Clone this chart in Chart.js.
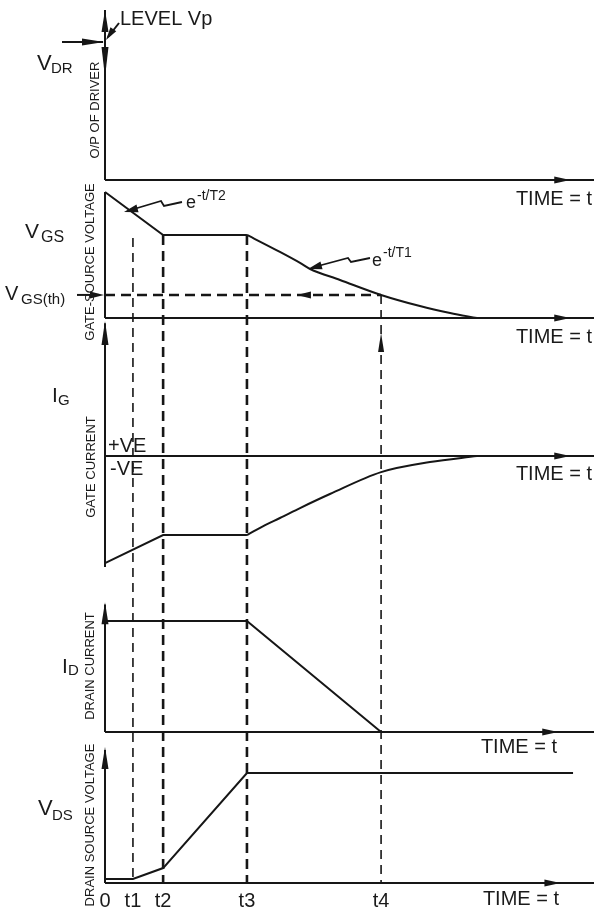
<!DOCTYPE html>
<html><head><meta charset="utf-8">
<script src="https://cdn.jsdelivr.net/npm/chart.js@4.4.1/dist/chart.umd.min.js"></script>
<style>html,body{margin:0;padding:0;background:#fff}#wrap{width:594px;height:911px;position:relative}</style>
</head><body><div id="wrap"><canvas id="c"></canvas></div>
<script>
// ---- time axis ----
const tickTimes = [0, 1.0, 2.08, 5.08, 9.88];
const tickLabels = ['0', 't1', 't2', 't3', 't4'];
const timeMax = 17.5;

// ---- V_DR (driver output) ----
const vdrLevel = 1.0;

// ---- V_GS ----
const vgsLinT = [0, 2.08, 5.08];
const vgsLinV = [1.0, 0.659, 0.659];
const vgsDecayT = [5.08, 6.26, 6.98, 7.34, 8.41, 9.88, 11.27, 12.35, 13.31];
const vgsDecayV = [0.659, 0.524, 0.437, 0.389, 0.302, 0.183, 0.095, 0.04, 0];
const vgsTh = 0.183;

// ---- I_G ----
const igLinT = [0, 2.08, 5.08];
const igLinV = [-1.0, -0.738, -0.738];
const igRiseT = [5.08, 5.73, 6.26, 6.98, 8.05, 9.88, 11.63, 13.31];
const igRiseV = [-0.738, -0.645, -0.579, -0.486, -0.355, -0.150, -0.056, 0];

// ---- I_D ----
const idT = [0, 5.08, 9.88];
const idV = [1.0, 1.0, 0];

// ---- V_DS ----
const vdsT = [0, 1.0, 2.08, 5.08, 16.75];
const vdsV = [0.036, 0.036, 0.136, 1.0, 1.0];

const FONT = "'Liberation Sans', Arial, Helvetica, sans-serif";
const INK = '#161616';

function pts(ts, vs) { return ts.map((t, i) => ({x: t, y: vs[i]})); }

function lineDs(ts, vs, axis, smooth) {
  return {
    data: pts(ts, vs), yAxisID: axis, borderColor: INK, borderWidth: 2,
    pointRadius: 0, fill: false, clip: false,
    tension: 0, cubicInterpolationMode: smooth ? 'monotone' : 'default'
  };
}

function head(ctx, tx, ty, dx, dy, len, half) {
  const n = Math.hypot(dx, dy); dx /= n; dy /= n;
  const bx = tx - dx * len, by = ty - dy * len;
  ctx.beginPath();
  ctx.moveTo(tx, ty);
  ctx.lineTo(bx - dy * half, by + dx * half);
  ctx.lineTo(bx + dy * half, by - dx * half);
  ctx.closePath(); ctx.fill();
}
function seg(ctx, p, w, dash) {
  ctx.save();
  ctx.lineWidth = w; ctx.setLineDash(dash || []);
  ctx.beginPath(); ctx.moveTo(p[0][0], p[0][1]);
  for (let i = 1; i < p.length; i++) ctx.lineTo(p[i][0], p[i][1]);
  ctx.stroke(); ctx.restore();
}
function txt(ctx, s, x, y, size, align) {
  ctx.font = size + 'px ' + FONT; ctx.textAlign = align || 'left'; ctx.textBaseline = 'alphabetic';
  ctx.fillText(s, x, y);
}
function rot(ctx, s, cx, cy, size) {
  ctx.save(); ctx.translate(cx, cy); ctx.rotate(-Math.PI / 2);
  ctx.font = size + 'px ' + FONT; ctx.textAlign = 'center'; ctx.textBaseline = 'middle';
  ctx.fillText(s, 0, 0); ctx.restore();
}

const diagram = {
  id: 'diagram',
  afterDatasetsDraw(chart) {
    const ctx = chart.ctx, S = chart.scales;
    const X = t => S.x.getPixelForValue(t);
    const Y = (id, v) => S[id].getPixelForValue(v);
    const right = chart.width;
    const x0 = X(0);
    ctx.save();
    ctx.strokeStyle = INK; ctx.fillStyle = INK; ctx.lineCap = 'butt';

    // ---- axes ----
    const hAx = (id, tipT) => {
      const y = Y(id, 0);
      seg(ctx, [[x0, y], [right, y]], 2);
      head(ctx, X(tipT), y, 1, 0, 16, 3.5);
    };
    hAx('yVDR', 16.65); hAx('yVGS', 16.65); hAx('yIG', 16.65); hAx('yID', 16.22); hAx('yVDS', 16.3);

    // V_DR vertical + arrows
    seg(ctx, [[x0, Y('yVDR', 0)], [x0, Y('yVDR', 1.232)]], 2);
    head(ctx, x0, Y('yVDR', 1.232), 0, -1, 22, 3.5);
    head(ctx, x0, Y('yVDR', 0.746), 0, 1, 30, 3.5);
    seg(ctx, [[x0 - 43, Y('yVDR', vdrLevel)], [x0 - 2, Y('yVDR', vdrLevel)]], 2);
    head(ctx, x0 - 1, Y('yVDR', vdrLevel), 1, 0, 22, 3.5);
    // LEVEL Vp leader
    seg(ctx, [[x0 + 14, 23], [x0 + 3, 37]], 2);
    head(ctx, x0 + 1, 40, -11, 16, 13, 3.5);

    // V_GS vertical
    seg(ctx, [[x0, Y('yVGS', 0)], [x0, Y('yVGS', vgsLinV[0])]], 2);
    // I_G vertical
    seg(ctx, [[x0, Y('yIG', igLinV[0]) + 4], [x0, Y('yIG', 1.24)]], 2);
    head(ctx, x0, Y('yIG', 1.262), 0, -1, 24, 3.5);
    // I_D vertical
    seg(ctx, [[x0, Y('yID', 0)], [x0, Y('yID', 1.15)]], 2);
    head(ctx, x0, Y('yID', 1.17), 0, -1, 22, 3.5);
    // V_DS vertical
    seg(ctx, [[x0, Y('yVDS', 0)], [x0, Y('yVDS', 1.21)]], 2);
    head(ctx, x0, Y('yVDS', 1.236), 0, -1, 22, 3.5);

    // ---- dashed time markers ----
    const yBot = Y('yVDS', 0);
    const yPlat = Y('yVGS', vgsLinV[1]);
    seg(ctx, [[X(tickTimes[1]), yPlat + 3], [X(tickTimes[1]), yBot]], 1.6, [9, 6]);
    seg(ctx, [[X(tickTimes[2]), yPlat], [X(tickTimes[2]), yBot]], 2.6, [10, 6]);
    seg(ctx, [[X(tickTimes[3]), yPlat], [X(tickTimes[3]), yBot]], 2.6, [10, 6]);
    const yTh = Y('yVGS', vgsTh);
    seg(ctx, [[X(tickTimes[4]), yTh], [X(tickTimes[4]), yBot]], 1.6, [9, 6]);
    head(ctx, X(tickTimes[4]), Y('yIG', 1.15), 0, -1, 19, 3);
    // threshold dashed
    seg(ctx, [[x0, yTh], [X(tickTimes[4]), yTh]], 2.6, [10, 6]);
    head(ctx, X(6.87), yTh, -1, 0, 14, 3.5);
    // V_GS(th) arrow
    seg(ctx, [[x0 - 28, yTh], [x0 - 6, yTh]], 2);
    head(ctx, x0 - 1, yTh, 1, 0, 14, 3.5);

    // zigzag leaders
    seg(ctx, [[182, 202], [164, 206], [161, 201], [134, 209]], 1.8);
    head(ctx, 124, 212, -37, 10, 14, 4);
    seg(ctx, [[370, 258], [351, 262], [348, 258], [318, 266]], 1.8);
    head(ctx, 308, 269, -40, 11, 14, 4);

    // ---- text ----
    ctx.fillStyle = '#1a1a1a';
    txt(ctx, 'LEVEL Vp', 120, 25, 20);
    txt(ctx, 'V', 37, 70, 22); txt(ctx, 'DR', 51, 73, 15);
    txt(ctx, 'V', 25, 238, 21); txt(ctx, 'GS', 41, 242, 16);
    txt(ctx, 'V', 5, 300, 20); txt(ctx, 'GS(th)', 21, 304, 15);
    txt(ctx, 'I', 52, 402, 21); txt(ctx, 'G', 58, 405, 15);
    txt(ctx, '+VE', 108, 452, 20); txt(ctx, '-VE', 110, 475, 20);
    txt(ctx, 'I', 62, 673, 21); txt(ctx, 'D', 68, 675, 15);
    txt(ctx, 'V', 38, 815, 22); txt(ctx, 'DS', 52, 820, 15);
    txt(ctx, 'e', 186, 208, 18); txt(ctx, '-t/T2', 197, 200, 14);
    txt(ctx, 'e', 372, 266, 18); txt(ctx, '-t/T1', 383, 257, 14);
    txt(ctx, 'TIME = t', 592, 205, 20, 'right');
    txt(ctx, 'TIME = t', 592, 343, 20, 'right');
    txt(ctx, 'TIME = t', 592, 480, 20, 'right');
    txt(ctx, 'TIME = t', 557, 753, 20, 'right');
    txt(ctx, 'TIME = t', 559, 905, 20, 'right');
    rot(ctx, 'O/P OF DRIVER', 95, 110, 13);
    rot(ctx, 'GATE-SOURCE VOLTAGE', 90, 262, 13);
    rot(ctx, 'GATE CURRENT', 91, 467, 13);
    rot(ctx, 'DRAIN CURRENT', 90, 666, 13);
    rot(ctx, 'DRAIN SOURCE VOLTAGE', 90, 825, 13);
    ctx.restore();
  }
};

const yPanel = (min, max, weight, order) => ({
  type: 'linear', display: false, min, max, stack: 'panels', stackWeight: weight,
  weight: order, position: 'left', grid: {display: false}, ticks: {display: false}
});

new Chart(document.getElementById('c'), {
  type: 'line',
  data: {
    datasets: [
      lineDs(vgsLinT, vgsLinV, 'yVGS', false),
      lineDs(vgsDecayT, vgsDecayV, 'yVGS', true),
      lineDs(igLinT, igLinV, 'yIG', false),
      lineDs(igRiseT, igRiseV, 'yIG', true),
      lineDs(idT, idV, 'yID', false),
      lineDs(vdsT, vdsV, 'yVDS', false)
    ]
  },
  options: {
    responsive: true, maintainAspectRatio: false, animation: false,
    layout: {padding: {left: 105, right: 0, top: 0, bottom: -8}},
    plugins: {legend: {display: false}, tooltip: {enabled: false}},
    scales: {
      x: {
        type: 'linear', min: 0, max: timeMax, position: 'bottom',
        grid: {display: false, drawTicks: false}, border: {display: false},
        afterBuildTicks: s => { s.ticks = tickTimes.map(v => ({value: v})); },
        ticks: {
          autoSkip: false, maxRotation: 0, padding: 8, color: '#1a1a1a',
          font: {family: FONT, size: 20, lineHeight: 1},
          callback: (v, i) => tickLabels[i]
        }
      },
      yVDR: yPanel(0, 1.304, 180, 5),
      yVGS: yPanel(0, 1.095, 138, 4),
      yIG: yPanel(-1.065, 1.29, 252, 3),
      yID: yPanel(0, 1.46, 162, 2),
      yVDS: yPanel(0, 1.373, 151, 1)
    }
  },
  plugins: [diagram]
});
</script></body></html>
